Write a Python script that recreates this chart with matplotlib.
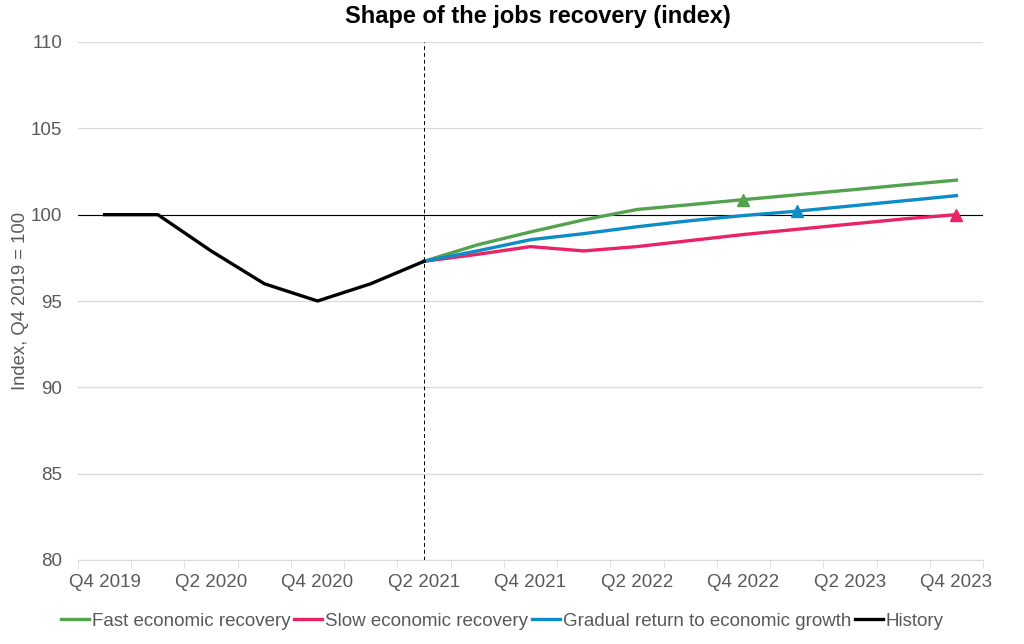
"""Shape of the jobs recovery (index): history plus three scenarios."""
import numpy as np
import matplotlib
matplotlib.use("Agg")
import matplotlib.pyplot as plt

plt.rcParams["font.family"] = ["Liberation Sans", "DejaVu Sans"]

quarters = ["Q4 2019", "Q1 2020", "Q2 2020", "Q3 2020", "Q4 2020", "Q1 2021",
            "Q2 2021", "Q3 2021", "Q4 2021", "Q1 2022", "Q2 2022", "Q3 2022",
            "Q4 2022", "Q1 2023", "Q2 2023", "Q3 2023", "Q4 2023"]

# history runs Q4 2019 .. Q2 2021, scenarios Q2 2021 .. Q4 2023
history = [100.0, 100.0, 97.9, 96.0, 95.0, 96.0, 97.3]
fast = [97.3, 98.25, 99.0, 99.7, 100.3, 100.58, 100.87, 101.15, 101.43, 101.72, 102.0]
slow = [97.3, 97.7, 98.15, 97.9, 98.15, 98.5, 98.85, 99.15, 99.45, 99.75, 100.0]
gradual = [97.3, 97.9, 98.55, 98.9, 99.3, 99.65, 99.95, 100.2, 100.5, 100.8, 101.1]

# index of the triangle marker on each scenario line (within its own list)
fast_marker = 6      # Q4 2022
gradual_marker = 7   # Q1 2023
slow_marker = 10     # Q4 2023

GREEN = "#52A24E"
PINK = "#EC2266"
BLUE = "#0D8CC6"
GRAY = "#595959"


def main():
    fig = plt.figure(figsize=(10.24, 6.44), dpi=100)
    ax = fig.add_axes([78 / 1024, 1 - 560 / 644, 905 / 1024, 518 / 644])

    x_hist = np.arange(len(history))
    x_proj = np.arange(len(history) - 1, len(quarters))

    ax.axhline(100, color="black", linewidth=0.8, zorder=2)
    ax.axvline(len(history) - 1, color="black", linewidth=0.7,
               linestyle=(0, (4, 3)), zorder=2)

    lw = 2.4
    ax.plot(x_proj, fast, color=GREEN, lw=lw, label="Fast economic recovery", zorder=4)
    ax.plot(x_proj, slow, color=PINK, lw=lw, label="Slow economic recovery", zorder=3)
    ax.plot(x_proj, gradual, color=BLUE, lw=lw,
            label="Gradual return to economic growth", zorder=4)
    ax.plot(x_hist, history, color="black", lw=lw, label="History", zorder=5)

    for xs, ys, idx, c in [(x_proj, fast, fast_marker, GREEN),
                           (x_proj, gradual, gradual_marker, BLUE),
                           (x_proj, slow, slow_marker, PINK)]:
        ax.plot(xs[idx], ys[idx], marker="^", markersize=9, color=c,
                linestyle="none", zorder=6)

    ax.set_xlim(-0.5, len(quarters) - 0.5)
    ax.set_ylim(80, 110)
    ax.set_yticks(np.arange(80, 111, 5))
    ax.yaxis.grid(True, color="#D9D9D9", linewidth=0.9)
    ax.set_axisbelow(True)

    ax.set_xticks(np.arange(0, len(quarters), 2))
    ax.set_xticklabels(quarters[::2])
    ax.set_xticks(np.arange(-0.5, len(quarters), 1), minor=True)
    ax.tick_params(axis="x", which="major", length=0, pad=10,
                   labelsize=13.5, labelcolor=GRAY)
    ax.tick_params(axis="x", which="minor", length=6, color="#D9D9D9")
    ax.tick_params(axis="y", length=0, pad=11.5, labelsize=13.5, labelcolor=GRAY)

    for s in ["top", "right", "left"]:
        ax.spines[s].set_visible(False)
    ax.spines["bottom"].set_color("#D9D9D9")

    ax.set_ylabel("Index, Q4 2019 = 100", fontsize=13.3, color=GRAY, labelpad=1.5)
    fig.text(538 / 1024, 1 - 17 / 644, "Shape of the jobs recovery (index)",
             fontsize=17, fontweight="bold", ha="center", va="center")

    ax.legend(loc="center", bbox_to_anchor=(0.469, -0.118), ncol=4, frameon=False,
              fontsize=13.5, handlelength=1.5, handletextpad=0.15, columnspacing=0.2,
              labelcolor=GRAY)

    fig.savefig("out.png", dpi=100)


if __name__ == "__main__":
    main()
